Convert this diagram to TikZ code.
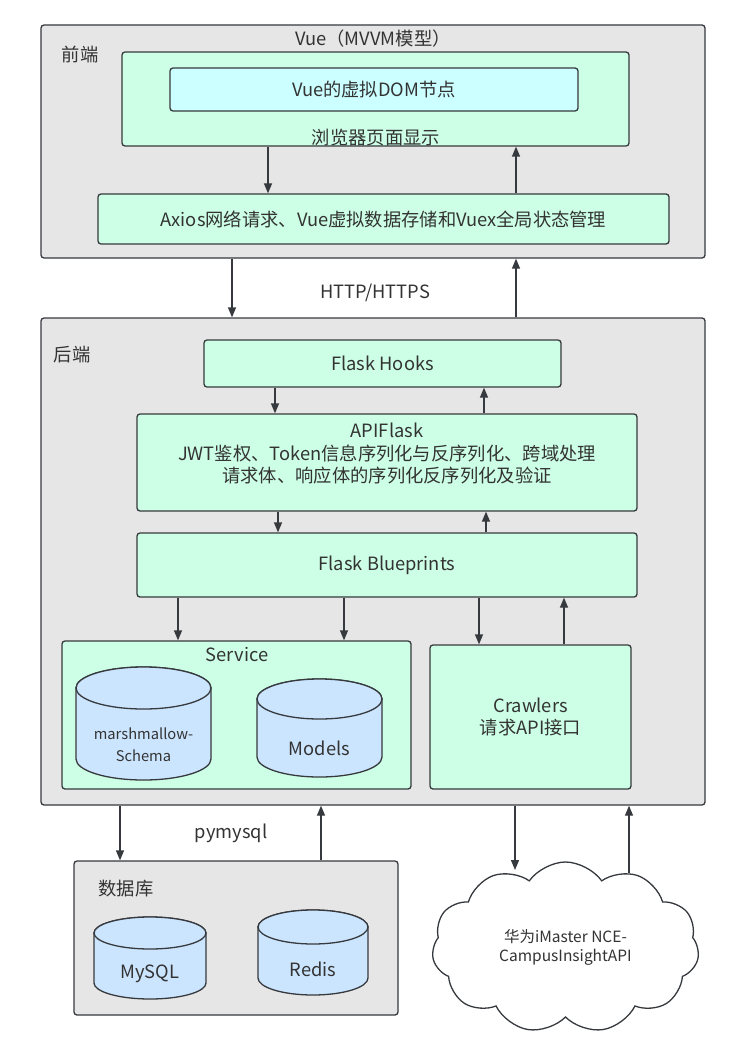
\documentclass[tikz,border=0pt]{standalone}
\usepackage{fontspec}
\setmainfont{Noto Sans CJK SC}
\usetikzlibrary{arrows.meta,shapes.symbols}

\definecolor{linegray}{HTML}{36393D}
\definecolor{textgray}{HTML}{333333}
\definecolor{panelgray}{HTML}{E6E6E6}
\definecolor{boxgreen}{HTML}{CCFFE6}
\definecolor{boxcyan}{HTML}{CCFFFF}
\definecolor{dbblue}{HTML}{CCE5FF}

\newcommand{\mainfs}{\fontsize{18.3}{22.5}\selectfont}
\newcommand{\smallfs}{\fontsize{14.7}{19.5}\selectfont}

\tikzset{
  panel/.style={draw=linegray, fill=panelgray, line width=1.3pt, rounded corners=3pt, inner sep=0pt},
  box/.style={draw=linegray, fill=boxgreen, line width=1.3pt, rounded corners=3pt, inner sep=0pt,
    text=textgray, align=center, font=\mainfs},
  txt/.style={text=textgray, align=center, font=\mainfs, inner sep=0pt},
  cyl/.style={draw=linegray, fill=dbblue, line width=1.3pt},
  cyltext/.style={text=textgray, align=center, font=\mainfs, inner sep=0pt},
  arr/.style={draw=linegray, line width=1.3pt, -{Triangle[length=10pt,width=8pt]}},
}

% cylinder: left, top, right, bottom, y radius, name, text
\newcommand{\dbcyl}[7]{%
  \pgfmathsetmacro\cylx{(#1+#3)/2}
  \pgfmathsetmacro\cylrx{(#3-#1)/2}
  \pgfmathsetmacro\cyly{(#2+2*#5+#4)/2}
  \filldraw[cyl] (#1,#2+#5) -- (#1,#4-#5)
    arc[start angle=180, end angle=360, x radius=\cylrx pt, y radius=#5pt]
    -- (#3,#2+#5)
    arc[start angle=0, end angle=180, x radius=\cylrx pt, y radius=#5pt] -- cycle;
  \draw[cyl] (\cylx,#2+#5) ellipse[x radius=\cylrx pt, y radius=#5pt];
  \node[cyltext] (#6) at (\cylx,\cyly) {#7};
}

\begin{document}
\begin{tikzpicture}[x=1pt, y=-1pt]
\useasboundingbox (0,0) rectangle (731,1059);

% front end
\node[panel, minimum width=664, minimum height=233] (front) at (373,141.5) {};
\node[txt] (fronttitle) at (373,39) {Vue（MVVM模型）};
\node[txt] (frontlabel) at (80,55) {前端};
\node[box, minimum width=507, minimum height=94] (browser) at (375.5,99) {};
\node[box, fill=boxcyan, minimum width=408, minimum height=43] (vdom) at (374,89.5) {Vue的虚拟DOM节点};
\node[txt] (browsertxt) at (376,138) {浏览器页面显示};
\node[box, minimum width=571, minimum height=50] (axios) at (383.5,219) {Axios网络请求、Vue虚拟数据存储和Vuex全局状态管理};
\draw[arr] (268,0 |- browser.south) -- (268,0 |- axios.north);
\draw[arr] (516,0 |- axios.north) -- (516,0 |- browser.south);

% http
\node[txt] (http) at (375,293) {HTTP/HTTPS};

% back end
\node[panel, minimum width=664, minimum height=487] (back) at (373,561.5) {};
\node[txt] (backlabel) at (72,355) {后端};
\draw[arr] (232,0 |- front.south) -- (232,0 |- back.north);
\draw[arr] (516,0 |- back.north) -- (516,0 |- front.south);

\node[box, minimum width=357, minimum height=47] (hooks) at (382.5,363.5) {Flask Hooks};
\node[box, minimum width=500, minimum height=97] (apiflask) at (387,462.5) {};
\node[txt] (apitxt) at (387,454) {APIFlask\\JWT鉴权、Token信息序列化与反序列化、跨域处理\\请求体、响应体的序列化反序列化及验证};
\node[box, minimum width=500, minimum height=64] (blueprints) at (387,565) {Flask Blueprints};
\draw[arr] (275,0 |- hooks.south) -- (275,0 |- apiflask.north);
\draw[arr] (484,0 |- apiflask.north) -- (484,0 |- hooks.south);
\draw[arr] (278,0 |- apiflask.south) -- (278,0 |- blueprints.north);
\draw[arr] (486,0 |- blueprints.north) -- (486,0 |- apiflask.south);

\node[box, minimum width=349, minimum height=148] (service) at (236.5,715) {};
\node[txt] (servicetxt) at (237,655) {Service};
\dbcyl{76}{667}{211}{780}{21}{schema}{\smallfs marshmallow-\\\smallfs Schema}
\dbcyl{257}{679}{382}{777}{20}{models}{Models}
\node[box, minimum width=201, minimum height=144] (crawlers) at (530.5,717) {Crawlers\\请求API接口};
\draw[arr] (178,0 |- blueprints.south) -- (178,0 |- service.north);
\draw[arr] (344,0 |- blueprints.south) -- (344,0 |- service.north);
\draw[arr] (479,0 |- blueprints.south) -- (479,0 |- crawlers.north);
\draw[arr] (564,0 |- crawlers.north) -- (564,0 |- blueprints.south);

% database
\node[txt] (pymysql) at (231,833) {pymysql};
\node[panel, minimum width=324, minimum height=154] (db) at (236,938) {};
\node[txt] (dblabel) at (126,889) {数据库};
\dbcyl{94}{917}{206}{999}{16}{mysql}{MySQL}
\dbcyl{258}{910}{368}{995}{17}{redis}{Redis}
\draw[arr] (120,0 |- back.south) -- (120,0 |- db.north);
\draw[arr] (321,0 |- db.north) -- (321,0 |- back.south);

% huawei cloud
\node[cloud, cloud puffs=11, cloud puff arc=110, cloud ignores aspect, draw=linegray, fill=white,
  line width=1.3pt, minimum width=267pt, minimum height=171pt, inner sep=0pt,
  text=textgray, align=center, font=\fontsize{15.5}{19}\selectfont] (huawei) at (565.5,947.5) {华为iMaster NCE-\\CampusInsightAPI};
\coordinate (cloudin) at (515,870);
\coordinate (cloudout) at (629,873);
\draw[arr] (cloudin |- back.south) -- (cloudin);
\draw[arr] (cloudout) -- (cloudout |- back.south);

\end{tikzpicture}
\end{document}
